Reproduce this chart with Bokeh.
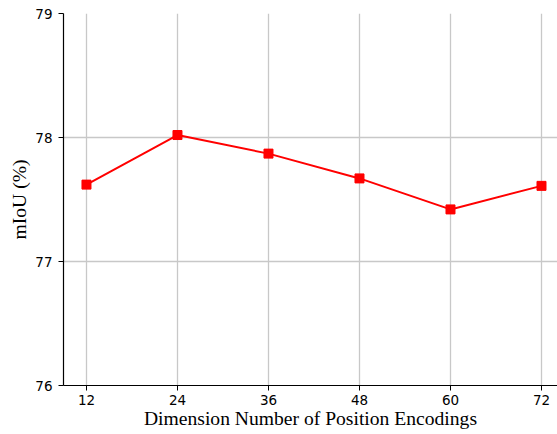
from bokeh.plotting import figure
from bokeh.models import Range1d, FixedTicker
from bokeh.embed import file_html
from bokeh.resources import INLINE

dims = [12, 24, 36, 48, 60, 72]
miou = [77.62, 78.02, 77.87, 77.67, 77.42, 77.61]
y_ticks = [76, 77, 78, 79]

p = figure(width=557, height=434, output_backend="svg", toolbar_location=None,
           x_range=Range1d(8.97, 74.11), y_range=Range1d(76, 79),
           min_border_left=63, min_border_right=0, min_border_top=13, min_border_bottom=49)
p.outline_line_color = None
p.background_fill_color = "white"
p.border_fill_color = "white"

p.line(dims, miou, line_color="red", line_width=2)
p.scatter(dims, miou, marker="square", size=9, fill_color="red", line_color="red")

p.xaxis.ticker = FixedTicker(ticks=dims)
p.yaxis.ticker = FixedTicker(ticks=y_ticks)
p.xgrid.ticker = FixedTicker(ticks=dims)
p.ygrid.ticker = FixedTicker(ticks=y_ticks)
for g in (p.xgrid, p.ygrid):
    g.grid_line_color = "#c8c8c8"
    g.grid_line_width = 1.3

for ax in (p.xaxis, p.yaxis):
    ax.axis_line_color = "black"
    ax.axis_line_width = 1.2
    ax.major_tick_line_color = "black"
    ax.major_tick_out = 5
    ax.major_tick_in = 0
    ax.minor_tick_line_color = None
    ax.major_label_text_font = "DejaVu Sans"
    ax.major_label_text_font_size = "13.5px"
    ax.major_label_text_color = "black"
    ax.axis_label_text_font = "Liberation Serif"
    ax.axis_label_text_font_size = "19.6px"
    ax.axis_label_text_font_style = "normal"
    ax.axis_label_text_color = "black"

p.xaxis.axis_label = "Dimension Number of Position Encodings"
p.yaxis.axis_label = "mIoU (%)"
p.xaxis.major_label_standoff = 4
p.yaxis.major_label_standoff = 6
p.xaxis.axis_label_standoff = 0
p.yaxis.axis_label_standoff = 2

open("out.html", "w").write(file_html(p, INLINE))
